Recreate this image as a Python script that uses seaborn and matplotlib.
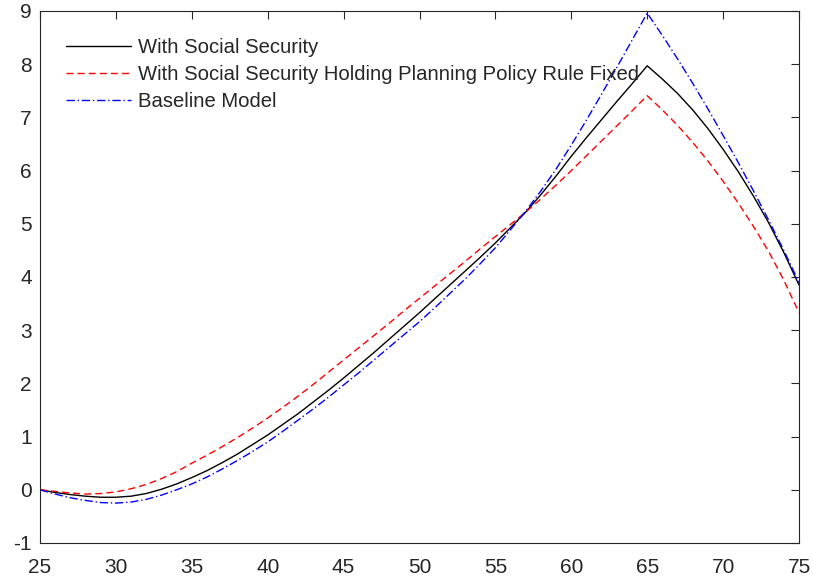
import numpy as np
import pandas as pd
import matplotlib
matplotlib.use("Agg")
import matplotlib.pyplot as plt
import seaborn as sns

ages = list(range(25, 76))

with_ss = [0.00, -0.05, -0.09, -0.12, -0.14, -0.14, -0.12, -0.07, 0.01, 0.11,
           0.23, 0.36, 0.51, 0.67, 0.85, 1.03, 1.23, 1.43, 1.65, 1.87,
           2.10, 2.34, 2.58, 2.83, 3.08, 3.33, 3.59, 3.85, 4.11, 4.37,
           4.64, 4.93, 5.22, 5.55, 5.90, 6.27, 6.62, 6.96, 7.30, 7.63,
           7.97, 7.72, 7.45, 7.14, 6.79, 6.40, 5.98, 5.52, 5.02, 4.46, 3.85]

with_ss_fixed = [0.00, -0.03, -0.06, -0.08, -0.07, -0.04, 0.02, 0.10, 0.21, 0.34,
                 0.50, 0.65, 0.81, 0.98, 1.16, 1.35, 1.55, 1.76, 1.98, 2.21,
                 2.44, 2.67, 2.90, 3.13, 3.37, 3.60, 3.83, 4.06, 4.29, 4.53,
                 4.76, 4.99, 5.22, 5.47, 5.73, 6.00, 6.28, 6.56, 6.84, 7.12,
                 7.41, 7.14, 6.85, 6.53, 6.18, 5.80, 5.39, 4.95, 4.48, 3.94, 3.33]

baseline = [0.00, -0.08, -0.15, -0.20, -0.24, -0.25, -0.23, -0.18, -0.10, 0.00,
            0.11, 0.24, 0.39, 0.55, 0.72, 0.90, 1.10, 1.31, 1.52, 1.74,
            1.97, 2.20, 2.44, 2.68, 2.92, 3.16, 3.42, 3.69, 3.96, 4.25,
            4.55, 4.89, 5.24, 5.62, 6.03, 6.48, 6.95, 7.44, 7.94, 8.45,
            8.96, 8.54, 8.10, 7.64, 7.16, 6.66, 6.15, 5.62, 5.07, 4.50, 3.90]

labels = ["With Social Security",
          "With Social Security Holding Planning Policy Rule Fixed",
          "Baseline Model"]
x_ticks = [25, 30, 35, 40, 45, 50, 55, 60, 65, 70, 75]
y_ticks = [-1, 0, 1, 2, 3, 4, 5, 6, 7, 8, 9]

sns.set_style("white")
plt.rcParams['font.family'] = ['Liberation Sans', 'DejaVu Sans']
plt.rcParams['axes.unicode_minus'] = False

fig = plt.figure(figsize=(8.13, 5.83), dpi=100)
ax = fig.add_axes([40/813, 1-543/583, (799-40)/813, (543-11)/583])

series = [with_ss, with_ss_fixed, baseline]
colors = ["black", "#ff0000", "#0000ff"]
styles = ["-", (0, (5, 3)), (0, (6, 2, 1, 2))]
for vals, lab, c, ls in zip(series, labels, colors, styles):
    df = pd.DataFrame({"age": ages, "value": vals})
    sns.lineplot(data=df, x="age", y="value", ax=ax, color=c, linestyle=ls,
                 linewidth=1.0, label=lab)

ax.set_xlim(25, 75)
ax.set_ylim(-1, 9)
ax.set_xticks(x_ticks)
ax.set_yticks(y_ticks)
ax.set_xlabel("")
ax.set_ylabel("")
ax.tick_params(direction="in", length=6, width=0.8, top=True, right=True,
               labelsize=15, colors="#262626")
ax.tick_params(axis="x", pad=11)
ax.tick_params(axis="y", pad=6)
for s in ax.spines.values():
    s.set_color("#262626")
    s.set_linewidth(0.8)
    s.set_visible(True)

leg = ax.legend(loc="upper left", bbox_to_anchor=(0.034, 0.95), frameon=False,
                fontsize=14.6, handlelength=3.2, handletextpad=0.35,
                labelspacing=0.4, borderaxespad=0.0, borderpad=0.0)

fig.savefig("out.png", dpi=100)
